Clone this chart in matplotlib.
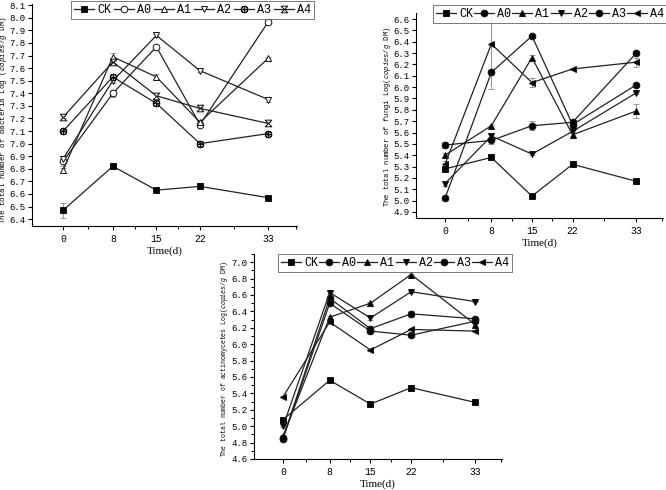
import numpy as np
import matplotlib
matplotlib.use("Agg")
from matplotlib import pyplot as plt
from matplotlib.path import Path
from matplotlib.ticker import FixedLocator, FormatStrFormatter, MultipleLocator

plt.rcParams['font.family'] = ['Liberation Mono', 'DejaVu Sans Mono']
plt.rcParams['mathtext.fontset'] = 'custom'
plt.rcParams['mathtext.it'] = 'Liberation Mono:italic'
plt.rcParams['mathtext.rm'] = 'Liberation Mono'

days = [0, 8, 15, 22, 33]
groups = ["CK", "A0", "A1", "A2", "A3", "A4"]

# bacteria
bac_CK = [6.47, 6.82, 6.63, 6.66, 6.57]
bac_A0 = [6.86, 7.40, 7.77, 7.15, 7.97]
bac_A1 = [6.79, 7.69, 7.53, 7.17, 7.68]
bac_A2 = [6.88, 7.50, 7.86, 7.58, 7.35]
bac_A3 = [7.10, 7.53, 7.32, 7.00, 7.08]
bac_A4 = [7.21, 7.65, 7.38, 7.28, 7.16]
bac_err = [[0.06, 0.01, 0.01, 0.01, 0.01],
           [0.04, 0.03, 0.01, 0.02, 0.01],
           [0.02, 0.03, 0.02, 0.02, 0.01],
           [0.02, 0.02, 0.01, 0.01, 0.02],
           [0.01, 0.02, 0.02, 0.02, 0.01],
           [0.01, 0.02, 0.02, 0.01, 0.01]]

# fungi
fun_CK = [5.28, 5.38, 5.04, 5.32, 5.17]
fun_A0 = [5.02, 6.13, 6.45, 5.67, 6.02]
fun_A1 = [5.40, 5.66, 6.26, 5.58, 5.79]
fun_A2 = [5.15, 5.57, 5.41, 5.61, 5.95]
fun_A3 = [5.49, 5.53, 5.66, 5.69, 6.30]
fun_A4 = [5.32, 6.38, 6.04, 6.16, 6.22]
fun_err = [[0.02, 0.01, 0.01, 0.01, 0.01],
           [0.01, 0.02, 0.01, 0.01, 0.01],
           [0.02, 0.01, 0.02, 0.02, 0.06],
           [0.02, 0.02, 0.01, 0.01, 0.01],
           [0.03, 0.03, 0.04, 0.02, 0.01],
           [0.03, 0.40, 0.04, 0.01, 0.04]]

# actinomycetes
act_CK = [5.08, 5.56, 5.27, 5.47, 5.29]
act_A0 = [4.86, 6.56, 6.19, 6.37, 6.31]
act_A1 = [4.88, 6.33, 6.50, 6.85, 6.24]
act_A2 = [5.00, 6.63, 6.32, 6.64, 6.52]
act_A3 = [4.85, 6.50, 6.16, 6.11, 6.28]
act_A4 = [5.36, 6.27, 5.93, 6.18, 6.16]
act_err = [[0.01, 0.01, 0.01, 0.01, 0.01],
           [0.01, 0.02, 0.02, 0.04, 0.02],
           [0.01, 0.02, 0.01, 0.01, 0.02],
           [0.01, 0.02, 0.02, 0.01, 0.01],
           [0.01, 0.02, 0.02, 0.01, 0.02],
           [0.01, 0.02, 0.01, 0.01, 0.01]]

hourglass = Path([(-1, 1), (1, 1), (-1, -1), (1, -1), (-1, 1)],
                 [Path.MOVETO, Path.LINETO, Path.LINETO, Path.LINETO, Path.CLOSEPOLY])

open_markers = [("s", "k"), ("o", "w"), ("^", "w"), ("v", "w"), (r"$\oplus$", "w"), (hourglass, "w")]
filled_markers = [("s", "k"), ("o", "k"), ("^", "k"), ("v", "k"), ("o", "k"), ("<", "k")]

fig = plt.figure(figsize=(6.66, 4.9), dpi=100)


def draw_panel(rect, series, errs, markers, ylim, ymajor, yminor,
               ylabel, label_size, label_pos, leg_box, colspace):
    ax = fig.add_axes(rect)
    handles = []
    for name, vals, err, (m, fc) in zip(groups, series, errs, markers):
        cont = ax.errorbar(days, vals, yerr=err, color="#222222", lw=0.9,
                           ecolor="#999999", elinewidth=0.8, capsize=2, capthick=0.8,
                           marker=m, mfc=fc, mec="#111111", mew=0.7, ms=4.8, label=name)
        handles.append(cont[0])
    ax.set_xlim(-5, 37.6)
    ax.set_ylim(*ylim)
    ax.xaxis.set_major_locator(FixedLocator(days))
    ax.xaxis.set_minor_locator(FixedLocator([4, 11.5, 18.5, 27.5, 37.5]))
    ax.yaxis.set_major_locator(MultipleLocator(ymajor))
    if yminor:
        ax.yaxis.set_minor_locator(MultipleLocator(yminor))
    ax.yaxis.set_major_formatter(FormatStrFormatter("%.1f"))
    for s in ["top", "right"]:
        ax.spines[s].set_visible(False)
    ax.spines["left"].set_linewidth(0.8)
    ax.spines["bottom"].set_linewidth(0.8)
    ax.tick_params(which="major", length=3, width=0.8, labelsize=6.5, pad=1.5)
    ax.tick_params(axis="x", which="major", labelsize=7, pad=2.5)
    ax.tick_params(which="minor", length=2, width=0.7)
    ax.set_xlabel("Time(d)", fontsize=8, family="Liberation Serif", labelpad=2)
    ax.set_ylabel(ylabel, fontsize=label_size)
    ax.yaxis.set_label_coords(*label_pos)
    leg = fig.legend(handles=handles, labels=groups,
                     loc="upper left", bbox_to_anchor=leg_box, ncol=6,
                     prop={"family": "Liberation Mono", "size": 8.5},
                     frameon=True, fancybox=False, handlelength=1.7,
                     handletextpad=0.25, columnspacing=colspace, borderpad=0.25,
                     borderaxespad=0)
    leg.get_frame().set_edgecolor("#555555")
    leg.get_frame().set_linewidth(0.7)
    return ax


W, H = 666.0, 490.0
draw_panel([32 / W, 1 - 226 / H, 265 / W, 222 / H],
           [bac_CK, bac_A0, bac_A1, bac_A2, bac_A3, bac_A4], bac_err, open_markers,
           (6.345, 8.11), 0.1, None,
           "The total number of bacteria Log ($\\it{copies/g}$ DM)", 5.4, (-0.085, 0.477),
           (71 / W, 1 - 1 / H), 0.25)
draw_panel([416 / W, 1 - 218 / H, 247 / W, 205 / H],
           [fun_CK, fun_A0, fun_A1, fun_A2, fun_A3, fun_A4], fun_err, filled_markers,
           (4.847, 6.653), 0.1, None,
           "The total number of fungi Log($\\it{copies/g}$ DM)", 5.1, (-0.095, 0.495),
           (433 / W, 1 - 5 / H), 0.1)
draw_panel([254 / W, 1 - 459 / H, 248 / W, 205 / H],
           [act_CK, act_A0, act_A1, act_A2, act_A3, act_A4], act_err, filled_markers,
           (4.6, 7.1), 0.2, 0.1,
           "The total number of actinomycetes Log($\\it{copies/g}$ DM)", 4.7, (-0.095, 0.49),
           (278 / W, 1 - 254 / H), 0.1)

fig.savefig("out.png", dpi=100)
